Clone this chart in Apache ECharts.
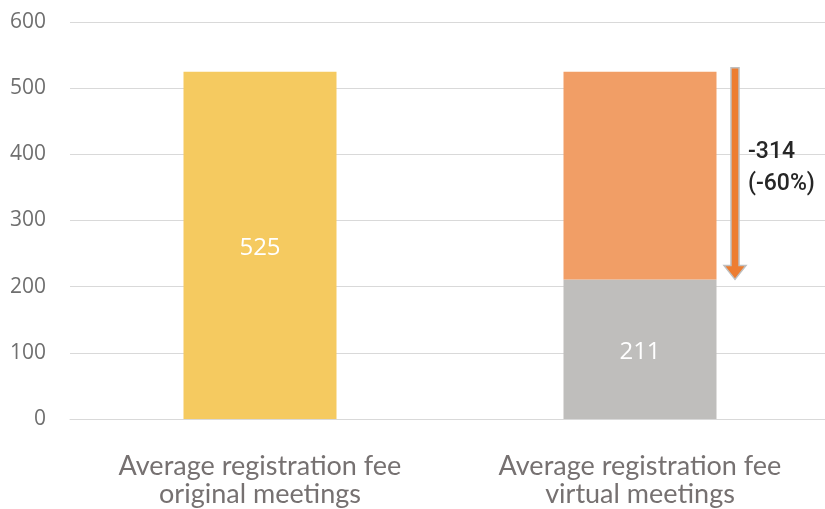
<!DOCTYPE html>
<html>
<head>
<meta charset="utf-8">
<script src="https://cdn.jsdelivr.net/npm/echarts@6/dist/echarts.min.js"></script>
<style>
  html, body { margin: 0; padding: 0; background: #fff; overflow: hidden; }
  #chart { width: 830px; height: 509px; }
</style>
</head>
<body>
<div id="chart"></div>
<script>
const categories = ['Average registration fee\noriginal meetings', 'Average registration fee\nvirtual meetings']
const baseValues = [525, 211]
const dropValues = [null, 314]
const yTicks = [0, 100, 200, 300, 400, 500, 600]
const dropLabel = ['-314', '(-60%)']

const chart = echarts.init(document.getElementById('chart'))

// arrow from top of the virtual stack down to the base value, drawn next to the bar
const arrowData = [[1, baseValues[1] + dropValues[1], baseValues[1]]]

const option = {
  animation: false,
  grid: { left: 70, right: 0, top: 22, bottom: 90, containLabel: false },
  xAxis: {
    type: 'category',
    data: categories,
    axisLine: { lineStyle: { color: '#d9d9d9', width: 1 } },
    axisTick: { show: false },
    axisLabel: { color: '#767171', fontSize: 27, fontFamily: 'Lato', lineHeight: 28, margin: 33 }
  },
  yAxis: {
    type: 'value',
    min: yTicks[0],
    max: yTicks[yTicks.length - 1],
    interval: 100,
    axisLine: { show: false },
    axisTick: { show: false },
    axisLabel: { color: '#6f6f6f', fontSize: 21, fontFamily: 'Open Sans', margin: 24 },
    splitLine: { lineStyle: { color: '#d9d9d9', width: 1 } }
  },
  series: [
    {
      name: 'base',
      type: 'bar',
      stack: 'fee',
      barWidth: 153,
      data: [
        { value: baseValues[0], itemStyle: { color: '#F5CA60' } },
        { value: baseValues[1], itemStyle: { color: '#BFBEBC' } }
      ],
      label: { show: true, position: 'inside', color: '#fff', fontSize: 24, fontFamily: 'Open Sans', offset: [0, 3] }
    },
    {
      name: 'drop',
      type: 'bar',
      stack: 'fee',
      barWidth: 153,
      data: dropValues,
      itemStyle: { color: '#F19E66' }
    },
    {
      name: 'arrow',
      type: 'custom',
      silent: true,
      data: arrowData,
      renderItem: function (params, api) {
        const top = api.coord([api.value(0), api.value(1)])
        const bottom = api.coord([api.value(0), api.value(2)])
        const x = top[0] + 95
        const y1 = top[1] - 4
        const y2 = bottom[1]
        const shaft = 4, head = 11, headH = 14
        return {
          type: 'group',
          children: [
            {
              type: 'polygon',
              shape: {
                points: [
                  [x - shaft, y1], [x + shaft, y1], [x + shaft, y2 - headH],
                  [x + head, y2 - headH], [x, y2], [x - head, y2 - headH],
                  [x - shaft, y2 - headH]
                ]
              },
              style: { fill: '#ED7D31', stroke: '#BFBFBF', lineWidth: 1.5 }
            },
            {
              type: 'text',
              style: {
                x: x + 13,
                y: (y1 + y2) / 2 - 37,
                text: dropLabel.join('\n'),
                fill: '#262626',
                fontSize: 23,
                fontWeight: 500,
                lineHeight: 32,
                fontFamily: 'Roboto',
                align: 'left',
                verticalAlign: 'top'
              }
            }
          ]
        }
      }
    }
  ]
}

chart.setOption(option)
window.addEventListener('resize', () => chart.resize())
</script>
</body>
</html>
